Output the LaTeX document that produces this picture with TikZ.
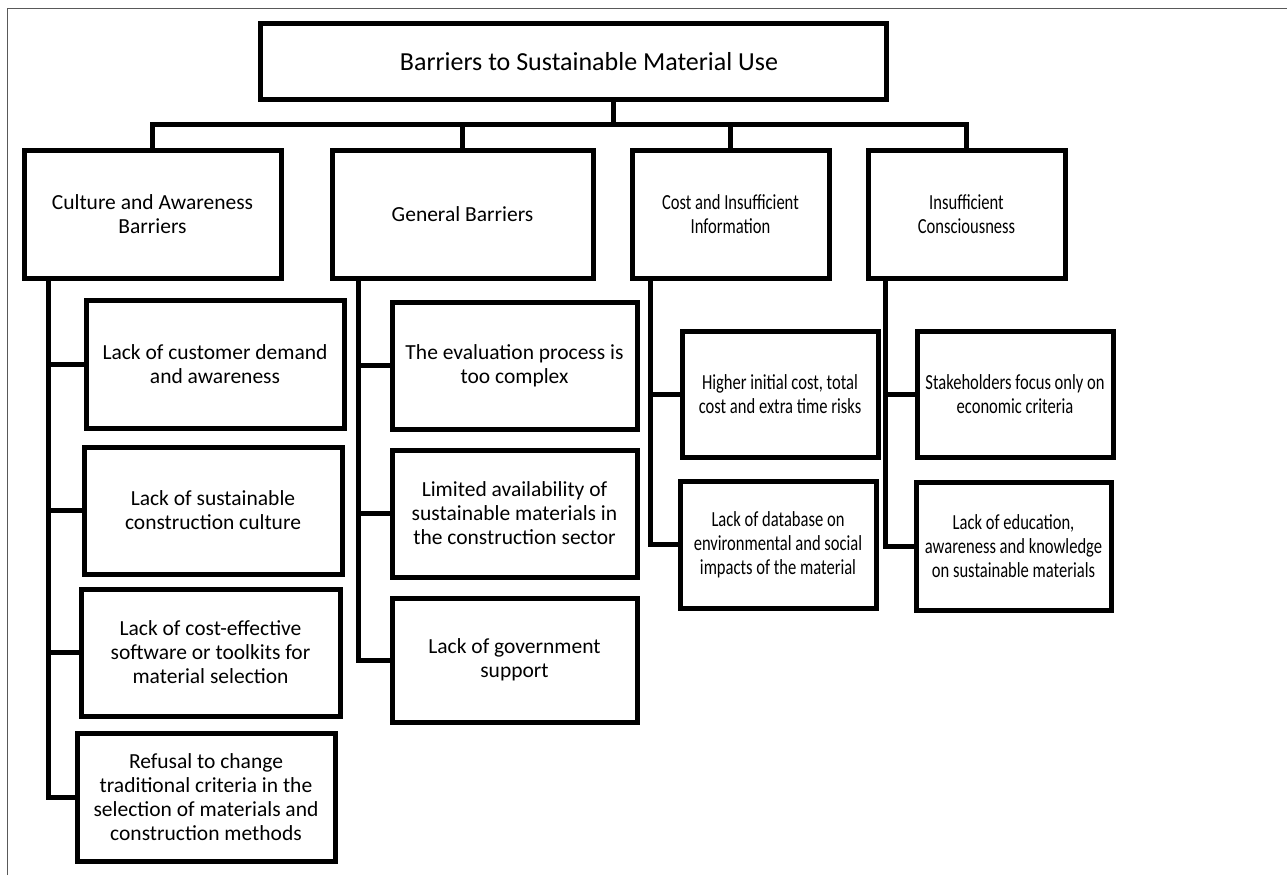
\documentclass[tikz,border=0pt]{standalone}
\usepackage{fontspec}
\setmainfont{Carlito}
\newfontfamily\narrowfont[FakeStretch=0.77]{Carlito}

\tikzset{
    barbox/.style={draw, line width=5pt, align=center, inner sep=0pt,
        font=\fontsize{21.5}{24}\selectfont},
    narrowbox/.style={barbox, font=\narrowfont\fontsize{21.5}{24}\selectfont},
    link/.style={line width=5pt},
}

\begin{document}
\begin{tikzpicture}[x=1pt, y=-1pt]
    \useasboundingbox (0,0) rectangle (1287,875);
    % frame (cut off at right and bottom)
    \draw[gray!70!black, line width=1pt] (7,875) -- (7,9) -- (1287,9);

    % top box
    \node[barbox, minimum width=626, minimum height=75,
        font=\fontsize{26}{30}\selectfont] (title) at (573,61.5)
        {\hspace*{32pt}Barriers to Sustainable Material Use};

    % the four groups
    \node[barbox, minimum width=257, minimum height=128] (cult) at (152.5,214) {Culture and Awareness\\Barriers};
    \node[barbox, minimum width=261, minimum height=128] (gen) at (462.5,214) {General Barriers};
    \node[narrowbox, minimum width=197, minimum height=128] (cost) at (730.5,214) {Cost and Insufficient\\Information};
    \node[narrowbox, minimum width=197, minimum height=128] (cons) at (966.5,214) {Insufficient\\Consciousness};

    % culture and awareness
    \node[barbox, minimum width=258, minimum height=128] (c11) at (215,364) {Lack of customer demand\\and awareness};
    \node[barbox, minimum width=258, minimum height=127] (c12) at (213,510.5) {Lack of sustainable\\construction culture};
    \node[barbox, minimum width=259, minimum height=127] (c13) at (210.5,652.5) {Lack of cost-effective\\software or toolkits for\\material selection};
    \node[barbox, minimum width=258, minimum height=128] (c14) at (206,797) {Refusal to change\\traditional criteria in the\\selection of materials and\\construction methods};

    % general
    \node[barbox, minimum width=245, minimum height=127] (c21) at (514.5,365.5) {The evaluation process is\\too complex};
    \node[barbox, minimum width=245, minimum height=127] (c22) at (514.5,513.5) {Limited availability of\\sustainable materials in\\the construction sector};
    \node[barbox, minimum width=245, minimum height=124] (c23) at (514.5,660) {Lack of government\\support};

    % cost and information
    \node[narrowbox, minimum width=196, minimum height=126] (c31) at (780,394) {Higher initial cost, total\\cost and extra time risks};
    \node[narrowbox, minimum width=196, minimum height=127] (c32) at (778,544.5) {Lack of database on\\environmental and social\\impacts of the material};

    % consciousness
    \node[narrowbox, minimum width=196, minimum height=126] (c41) at (1015,394) {Stakeholders focus only on\\economic criteria};
    \node[narrowbox, minimum width=195, minimum height=128] (c42) at (1013.5,546) {Lack of education,\\awareness and knowledge\\on sustainable materials};

    % bus under the title
    \coordinate (bus) at (613,124);
    \draw[link] (title.south -| bus) -- (bus);
    \draw[link] (cult.north) -- (cult.north |- bus) -- (cons.north |- bus) -- (cons.north);
    \draw[link] (gen.north) -- (gen.north |- bus);
    \draw[link] (cost.north) -- (cost.north |- bus);

    % spines
    \coordinate (s1) at ([xshift=27pt]cult.south west);
    \coordinate (s2) at ([xshift=29pt]gen.south west);
    \coordinate (s3) at ([xshift=21pt]cost.south west);
    \coordinate (s4) at ([xshift=20pt]cons.south west);
    \draw[link] (s1) |- (c14.west);
    \draw[link] (s2) |- (c23.west);
    \draw[link] (s3) |- (c32.west);
    \draw[link] (s4) |- (c42.west);
    \draw[link] (c11.west) -- (c11.west -| s1);
    \draw[link] (c12.west) -- (c12.west -| s1);
    \draw[link] (c13.west) -- (c13.west -| s1);
    \draw[link] (c21.west) -- (c21.west -| s2);
    \draw[link] (c22.west) -- (c22.west -| s2);
    \draw[link] (c31.west) -- (c31.west -| s3);
    \draw[link] (c41.west) -- (c41.west -| s4);
\end{tikzpicture}
\end{document}
